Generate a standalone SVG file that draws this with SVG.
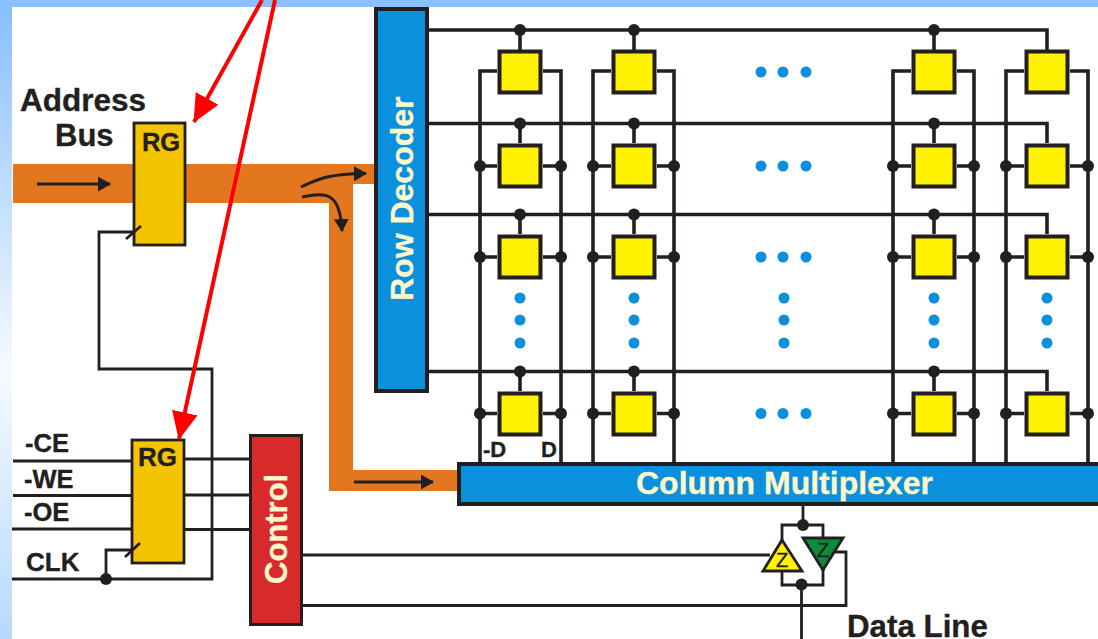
<svg xmlns="http://www.w3.org/2000/svg" width="1098" height="639" viewBox="0 0 1098 639">
<style>
text{font-family:"Liberation Sans",Arial,sans-serif;font-weight:700;fill:#231f20;stroke:#231f20;stroke-width:.35px}
.w{fill:none;stroke:#231f20;stroke-width:3.6;stroke-linejoin:miter}
.t{stroke-width:2.8}
.j{fill:#231f20}
.cell{fill:#fff200;stroke:#231f20;stroke-width:4}
.reg{fill:#f5c400;stroke:#231f20;stroke-width:2.800}
.blue{fill:#0a90dc;stroke:#231f20;stroke-width:4}
text.lab{fill:#fdf8cc;stroke:#fdf8cc;font-size:32px}
.dot{fill:#0a90dc}
.flow{fill:none;stroke:#231f20;stroke-width:3;marker-end:url(#ah)}
.red{fill:none;stroke:#ff0000;stroke-width:4;marker-end:url(#rh)}
text.z{font-weight:400;font-size:20px;text-anchor:middle}
</style>
<defs>
<linearGradient id="bg" x1="0" y1="0" x2="0" y2="1">
<stop offset="0" stop-color="#86beff"/><stop offset="0.58" stop-color="#f6faff"/><stop offset="1" stop-color="#b6d9ff"/>
</linearGradient>
<marker id="ah" markerUnits="userSpaceOnUse" markerWidth="14" markerHeight="16" refX="12" refY="7.500" orient="auto"><path d="M0 0L13 7.500L0 15Z" fill="#231f20"/></marker>
<marker id="rh" markerUnits="userSpaceOnUse" markerWidth="30" markerHeight="28" refX="27" refY="13" orient="auto"><path d="M0 0L28 13L0 26Z" fill="#ff0000"/></marker>
</defs>
<rect id="backdrop" x="0" y="0" width="1098" height="639" fill="url(#bg)"/>
<rect x="0" y="0" width="1098" height="7" fill="#8ac0ff"/>
<rect x="12" y="7" width="1086" height="632" fill="#fff"/>
<g id="address-bus-band"><path d="M13 164H374V184H353V470H457V491H329V203H13Z" fill="#e2771f"/></g>
<g id="connectors">
<path class="w" d="M428 30H1047V50M428 123.500H1047V143M428 214.500H1047V234M428 371.500H1047V391"/>
<path class="w" d="M520 30V50M634 30V50M934 30V50M520 123.500V143M634 123.500V143M934 123.500V143M520 214.500V234M634 214.500V234M934 214.500V234M520 371.500V391M634 371.500V391M934 371.500V391"/>
<path class="w" d="M497 71H480V462M543 71H561V462M611 71H593V462M657 71H674V462M911 71H893V462M957 71H974V462M1024 71H1006V462M1070 71H1088V462"/>
<path class="w" d="M480 166H497M543 166H561M593 166H611M657 166H674M893 166H911M957 166H974M1006 166H1024M1070 166H1088M480 257H497M543 257H561M593 257H611M657 257H674M893 257H911M957 257H974M1006 257H1024M1070 257H1088M480 413.500H497M543 413.500H561M593 413.500H611M657 413.500H674M893 413.500H911M957 413.500H974M1006 413.500H1024M1070 413.500H1088"/>
<path class="w t" d="M13 461H131M13 495.500H131M12 529H131M185 459H249M185 495H249M185 529.500H249"/>
<path class="w t" d="M12 579H212V369H99V232H134M106 579V550H131"/>
<path class="w t" d="M303 555H770M303 605.500H846V552H835"/>
<path class="w t" d="M803 506V525M782 541V525H823V539M782 570V585H823V569M801.500 585V639"/>
<g class="j">
<circle cx="520" cy="30" r="6"/><circle cx="634" cy="30" r="6"/><circle cx="934" cy="30" r="6"/>
<circle cx="520" cy="123.500" r="6"/><circle cx="634" cy="123.500" r="6"/><circle cx="934" cy="123.500" r="6"/>
<circle cx="520" cy="214.500" r="6"/><circle cx="634" cy="214.500" r="6"/><circle cx="934" cy="214.500" r="6"/>
<circle cx="520" cy="371.500" r="6"/><circle cx="634" cy="371.500" r="6"/><circle cx="934" cy="371.500" r="6"/>
<circle cx="480" cy="166" r="6"/><circle cx="561" cy="166" r="6"/><circle cx="593" cy="166" r="6"/><circle cx="674" cy="166" r="6"/><circle cx="893" cy="166" r="6"/><circle cx="974" cy="166" r="6"/><circle cx="1006" cy="166" r="6"/><circle cx="1088" cy="166" r="6"/>
<circle cx="480" cy="257" r="6"/><circle cx="561" cy="257" r="6"/><circle cx="593" cy="257" r="6"/><circle cx="674" cy="257" r="6"/><circle cx="893" cy="257" r="6"/><circle cx="974" cy="257" r="6"/><circle cx="1006" cy="257" r="6"/><circle cx="1088" cy="257" r="6"/>
<circle cx="480" cy="413.500" r="6"/><circle cx="561" cy="413.500" r="6"/><circle cx="593" cy="413.500" r="6"/><circle cx="674" cy="413.500" r="6"/><circle cx="893" cy="413.500" r="6"/><circle cx="974" cy="413.500" r="6"/><circle cx="1006" cy="413.500" r="6"/><circle cx="1088" cy="413.500" r="6"/>
<circle cx="106" cy="579" r="6"/><circle cx="803" cy="525" r="6"/><circle cx="801.500" cy="584.500" r="6"/>
</g>
<path class="flow" d="M37 184H110"/>
<path class="flow" d="M354 482H433"/>
<path class="flow" d="M301 187C320 178 330 174 366 173.500"/>
<path class="flow" d="M302 197C325 193 340 190 342 231"/>
</g>
<g id="cells">
<g id="cell-1-1"><rect class="cell" x="499.500" y="51.500" width="41" height="41"/></g>
<g id="cell-1-2"><rect class="cell" x="613.500" y="51.500" width="41" height="41"/></g>
<g id="cell-1-3"><rect class="cell" x="913.500" y="51.500" width="41" height="41"/></g>
<g id="cell-1-4"><rect class="cell" x="1026.500" y="51.500" width="41" height="41"/></g>
<g id="cell-2-1"><rect class="cell" x="499.500" y="145.500" width="41" height="41"/></g>
<g id="cell-2-2"><rect class="cell" x="613.500" y="145.500" width="41" height="41"/></g>
<g id="cell-2-3"><rect class="cell" x="913.500" y="145.500" width="41" height="41"/></g>
<g id="cell-2-4"><rect class="cell" x="1026.500" y="145.500" width="41" height="41"/></g>
<g id="cell-3-1"><rect class="cell" x="499.500" y="236.500" width="41" height="41"/></g>
<g id="cell-3-2"><rect class="cell" x="613.500" y="236.500" width="41" height="41"/></g>
<g id="cell-3-3"><rect class="cell" x="913.500" y="236.500" width="41" height="41"/></g>
<g id="cell-3-4"><rect class="cell" x="1026.500" y="236.500" width="41" height="41"/></g>
<g id="cell-4-1"><rect class="cell" x="499.500" y="393.500" width="41" height="41"/></g>
<g id="cell-4-2"><rect class="cell" x="613.500" y="393.500" width="41" height="41"/></g>
<g id="cell-4-3"><rect class="cell" x="913.500" y="393.500" width="41" height="41"/></g>
<g id="cell-4-4"><rect class="cell" x="1026.500" y="393.500" width="41" height="41"/></g>
</g>
<g id="ellipsis-dots" class="dot">
<circle cx="761" cy="72" r="5.500"/><circle cx="783" cy="72" r="5.500"/><circle cx="806" cy="72" r="5.500"/>
<circle cx="761" cy="166" r="5.500"/><circle cx="783" cy="166" r="5.500"/><circle cx="806" cy="166" r="5.500"/>
<circle cx="761" cy="257" r="5.500"/><circle cx="783" cy="257" r="5.500"/><circle cx="806" cy="257" r="5.500"/>
<circle cx="761" cy="413.500" r="5.500"/><circle cx="783" cy="413.500" r="5.500"/><circle cx="806" cy="413.500" r="5.500"/>
<circle cx="520" cy="298" r="5.500"/><circle cx="520" cy="320" r="5.500"/><circle cx="520" cy="343" r="5.500"/>
<circle cx="634" cy="298" r="5.500"/><circle cx="634" cy="320" r="5.500"/><circle cx="634" cy="343" r="5.500"/>
<circle cx="784" cy="298" r="5.500"/><circle cx="784" cy="320" r="5.500"/><circle cx="784" cy="343" r="5.500"/>
<circle cx="934" cy="298" r="5.500"/><circle cx="934" cy="320" r="5.500"/><circle cx="934" cy="343" r="5.500"/>
<circle cx="1047" cy="298" r="5.500"/><circle cx="1047" cy="320" r="5.500"/><circle cx="1047" cy="343" r="5.500"/>
</g>
<g id="row-decoder"><rect class="blue" x="376" y="9" width="51" height="382"/><text class="lab" transform="translate(413 301) rotate(-90)">Row Decoder</text></g>
<g id="column-multiplexer"><rect class="blue" x="459" y="464" width="645" height="40"/><text class="lab" x="636" y="494">Column Multiplexer</text></g>
<g id="address-register"><rect class="reg" x="134" y="123" width="51" height="122"/><text x="161" y="150.500" font-size="25.500" text-anchor="middle">RG</text></g>
<path class="w t" d="M126 239L141 226"/>
<g id="control-register"><rect class="reg" x="132" y="440" width="52" height="123"/><text x="157.500" y="465.500" font-size="26" text-anchor="middle">RG</text></g>
<path class="w t" d="M125 557L140 543"/>
<g id="control"><rect x="250.500" y="435.500" width="51" height="189" fill="#d82a2a" stroke="#231f20" stroke-width="3"/><text class="lab" style="font-size:31px" transform="translate(287 584) rotate(-90)">Control</text></g>
<g id="buffer-yellow"><path d="M782 540L802 571H763Z" fill="#fff200" stroke="#231f20" stroke-width="2.800"/><text class="z" x="782" y="567">Z</text></g>
<g id="buffer-green"><path d="M803 538H843L823 570Z" fill="#0a8c3c" stroke="#231f20" stroke-width="2.800"/><text class="z" x="823" y="556.500">Z</text></g>
<g id="labels">
<text x="20" y="110.500" font-size="31.500">Address</text>
<text x="55" y="146" font-size="31">Bus</text>
<text x="25" y="452" font-size="25.500">-CE</text>
<text x="24" y="488" font-size="25.500">-WE</text>
<text x="24" y="521" font-size="25.500">-OE</text>
<text x="26" y="571" font-size="26">CLK</text>
<text x="483" y="457" font-size="22">-D</text>
<text x="541" y="457" font-size="22">D</text>
<text x="847" y="637" font-size="31.300">Data Line</text>
</g>
<g id="red-arrows">
<path class="red" d="M262 0L194 122"/>
<path class="red" d="M275 0L179 439"/>
</g>
</svg>
